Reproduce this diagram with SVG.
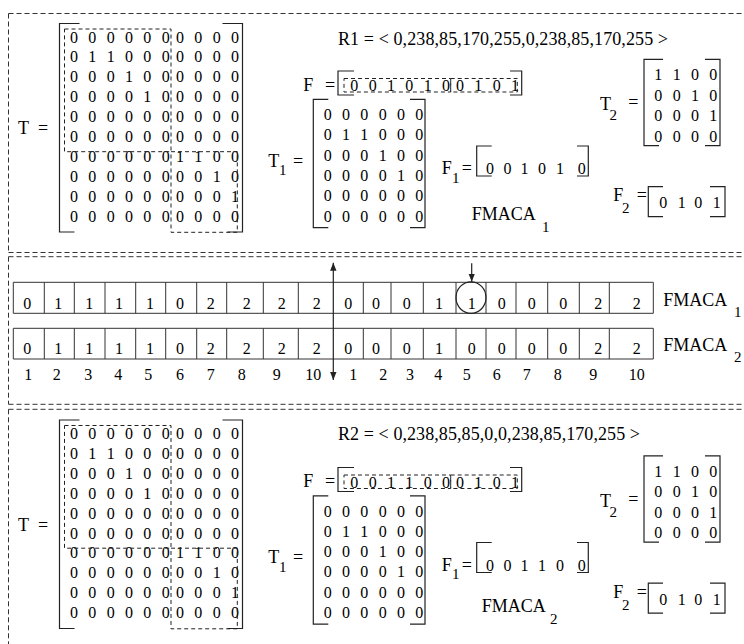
<svg xmlns="http://www.w3.org/2000/svg" width="744" height="644" viewBox="0 0 744 644">
<defs>
<style>
text{font-family:"Liberation Serif","Times New Roman",serif;fill:#000}
.d{font-size:16px;text-anchor:middle}
.l{font-size:18px}
.s{font-size:15px}
.frame{fill:none;stroke:#333;stroke-width:1;stroke-dasharray:5 3}
.br{fill:none;stroke:#222;stroke-width:1.2}
.db{fill:none;stroke:#222;stroke-width:1;stroke-dasharray:4 3}
.cell{fill:none;stroke:#333;stroke-width:1}
.ar{fill:none;stroke:#222;stroke-width:1.2}
</style>
<marker id="ah" viewBox="0 0 10 10" refX="10" refY="5" markerWidth="8" markerHeight="8" markerUnits="userSpaceOnUse" orient="auto"><path d="M0 1 L10 5 L0 9 Z" fill="#222"/></marker>
<g id="mats">
  <g id="bigT">
    <text class="l" x="18" y="134">T</text><text class="l" x="38" y="134">=</text>
    <path class="br" d="M79.5 23.5 H59.5 V232 H74.5 M222.5 23.5 H242.5 V232 H227.5"/>
    <g class="d">
      <text x="74 92.3 110.7 129 147.3 165.7 180 198.3 216.7 235" y="42.5">0000000000</text>
      <text x="74 92.3 110.7 129 147.3 165.7 180 198.3 216.7 235" y="62.4">0110000000</text>
      <text x="74 92.3 110.7 129 147.3 165.7 180 198.3 216.7 235" y="82.3">0001000000</text>
      <text x="74 92.3 110.7 129 147.3 165.7 180 198.3 216.7 235" y="102.2">0000100000</text>
      <text x="74 92.3 110.7 129 147.3 165.7 180 198.3 216.7 235" y="122.1">0000000000</text>
      <text x="74 92.3 110.7 129 147.3 165.7 180 198.3 216.7 235" y="142">0000000000</text>
      <text x="74 92.3 110.7 129 147.3 165.7 180 198.3 216.7 235" y="161.9">0000001100</text>
      <text x="74 92.3 110.7 129 147.3 165.7 180 198.3 216.7 235" y="181.8">0000000010</text>
      <text x="74 92.3 110.7 129 147.3 165.7 180 198.3 216.7 235" y="201.7">0000000001</text>
      <text x="74 92.3 110.7 129 147.3 165.7 180 198.3 216.7 235" y="221.6">0000000000</text>
    </g>
    <rect class="db" x="64.5" y="29" width="106.5" height="122.7"/>
    <rect class="db" x="171" y="151.7" width="66.3" height="80.6"/>
  </g>
  <g id="T1">
    <text class="l" x="268.3" y="166.7">T</text><text class="s" x="279" y="175">1</text><text class="l" x="293" y="166.7">=</text>
    <path class="br" d="M328.3 99.3 H313.3 V227.7 H328.3 M410 99.3 H425 V227.7 H410"/>
    <g class="d">
      <text x="327.7 346 364.3 382.7 401 419.3" y="120">000000</text>
      <text x="327.7 346 364.3 382.7 401 419.3" y="140.3">011000</text>
      <text x="327.7 346 364.3 382.7 401 419.3" y="160.6">000100</text>
      <text x="327.7 346 364.3 382.7 401 419.3" y="180.9">000010</text>
      <text x="327.7 346 364.3 382.7 401 419.3" y="201.2">000000</text>
      <text x="327.7 346 364.3 382.7 401 419.3" y="221.5">000000</text>
    </g>
  </g>
  <g id="T2">
    <text class="l" x="600" y="110">T</text><text class="s" x="609.5" y="120">2</text><text class="l" x="628.3" y="108">=</text>
    <path class="br" d="M663 59.3 H644 V145.7 H659 M705 59.3 H720 V145.7 H705"/>
    <g class="d">
      <text x="658.3 676.7 695 713.3" y="80">1100</text>
      <text x="658.3 676.7 695 713.3" y="100.5">0010</text>
      <text x="658.3 676.7 695 713.3" y="121">0001</text>
      <text x="658.3 676.7 695 713.3" y="141.5">0000</text>
    </g>
  </g>
  <g id="F2">
    <text class="l" x="613.3" y="201">F</text><text class="s" x="622" y="213">2</text><text class="l" x="636.7" y="201">=</text>
    <path class="br" d="M663 186.7 H648.3 V216.7 H663 M710 186.7 H725 V216.7 H710"/>
    <text class="d" x="663.3 681.7 698.3 716.7" y="208">0101</text>
  </g>
  <g id="Fbox">
    <text class="l" x="303.3" y="90.5">F</text><text class="l" x="325" y="90.5">=</text>
    <path class="br" d="M354 71 H338 V95 H354 M510 71 H521.7 V95 H510"/>
    <rect class="db" x="344" y="78.5" width="106.7" height="13.5"/>
    <rect class="db" x="450.7" y="78.5" width="66.6" height="13.5"/>
  </g>
  <g id="F1">
    <text class="l" x="441.7" y="174.3">F</text><text class="s" x="452" y="182.7">1</text><text class="l" x="461.7" y="174.3">=</text>
    <path class="br" d="M491.7 146 H476.7 V176 H491.7 M577 146 H588.3 V176 H577"/>
  </g>
</g>
</defs>

<g id="panel-top">
  <path class="frame" d="M8.5 13.5 H744 M8.5 13.5 V252.5 M8.5 252.5 H744"/>
  <use href="#mats"/>
  <text class="l" x="338" y="45" textLength="330" lengthAdjust="spacing">R1 = &lt; 0,238,85,170,255,0,238,85,170,255 &gt;</text>
  <text class="d" x="354.3 372.7 391 409.3 427.7 446 460 478.3 496.7 515" y="91">0010100101</text>
  <text class="d" x="490 507.5 524.5 542 560 581.7" y="174">001010</text>
  <text class="l" x="471.7" y="220">FMACA</text><text class="s" x="542" y="232">1</text>
</g>

<g id="panel-middle">
  <path class="frame" d="M8.5 256.7 H744 M8.5 256.7 V404.3 M8.5 404.3 H744"/>
  <g id="strip1">
    <path class="cell" d="M13.3 282.3 H653.3 V313.3 H13.3 Z M44.3 282.3 V313.3 M74.3 282.3 V313.3 M105 282.3 V313.3 M135.7 282.3 V313.3 M165.7 282.3 V313.3 M196.7 282.3 V313.3 M226.7 282.3 V313.3 M263.3 282.3 V313.3 M298.3 282.3 V313.3 M363.3 282.3 V313.3 M391 282.3 V313.3 M423.3 282.3 V313.3 M456 282.3 V313.3 M486 282.3 V313.3 M516 282.3 V313.3 M547.7 282.3 V313.3 M579.3 282.3 V313.3 M609.3 282.3 V313.3"/>
    <text class="d" x="27.3 58.3 89.3 119 150 180 210.7 246.7 281.7 316.7 348.3 376 406.7 439 471.7 501.7 531.7 563.3 598.3 636.7" y="308.5">01111022220001100022</text>
    <ellipse cx="471" cy="297.6" rx="15" ry="15.8" fill="none" stroke="#222" stroke-width="1.2"/>
    <text class="l" x="663.3" y="306">FMACA</text><text class="s" x="734" y="317">1</text>
  </g>
  <g id="strip2">
    <path class="cell" d="M13.3 328.3 H653.3 V359 H13.3 Z M44.3 328.3 V359 M74.3 328.3 V359 M105 328.3 V359 M135.7 328.3 V359 M165.7 328.3 V359 M196.7 328.3 V359 M226.7 328.3 V359 M263.3 328.3 V359 M298.3 328.3 V359 M363.3 328.3 V359 M391 328.3 V359 M423.3 328.3 V359 M456 328.3 V359 M486 328.3 V359 M516 328.3 V359 M547.7 328.3 V359 M579.3 328.3 V359 M609.3 328.3 V359"/>
    <text class="d" x="27.3 58.3 89.3 119 150 180 210.7 246.7 281.7 316.7 348.3 376 406.7 439 471.7 501.7 531.7 563.3 598.3 636.7" y="354">01111022220001000022</text>
    <text class="l" x="663.3" y="351">FMACA</text><text class="s" x="734" y="362">2</text>
  </g>
  <g id="index" class="d">
    <text x="28.3" y="380">1</text><text x="56.7" y="380">2</text><text x="88.3" y="380">3</text><text x="118.3" y="380">4</text><text x="148.3" y="380">5</text><text x="180" y="380">6</text><text x="210.7" y="380">7</text><text x="241.7" y="380">8</text><text x="276.7" y="380">9</text><text x="313.3" y="380">10</text>
    <text x="353.3" y="380">1</text><text x="383.3" y="380">2</text><text x="410" y="380">3</text><text x="438.3" y="380">4</text><text x="466.7" y="380">5</text><text x="496.7" y="380">6</text><text x="526.7" y="380">7</text><text x="557.7" y="380">8</text><text x="593.3" y="380">9</text><text x="636.7" y="380">10</text>
  </g>
  <g id="connectors">
    <path class="ar" d="M333.3 321 V262.7" marker-end="url(#ah)"/>
    <path class="ar" d="M333.3 321 V380" marker-end="url(#ah)"/>
    <path class="ar" d="M471.7 263.3 V281.7" marker-end="url(#ah)"/>
  </g>
</g>

<g id="panel-bottom">
  <path class="frame" d="M8.5 409.3 H744 M8.5 409.3 V644"/>
  <use href="#mats" transform="translate(0,396.5)"/>
  <text class="l" x="338" y="440" textLength="302" lengthAdjust="spacing">R2 = &lt; 0,238,85,85,0,0,238,85,170,255 &gt;</text>
  <text class="d" x="354.3 372.7 391 409.3 427.7 446 460 478.3 496.7 515" y="487.5">0011000101</text>
  <text class="d" x="490 507.5 524.5 542 560 581.7" y="570.5">001100</text>
  <text class="l" x="481.7" y="612">FMACA</text><text class="s" x="550" y="624">2</text>
</g>
</svg>
